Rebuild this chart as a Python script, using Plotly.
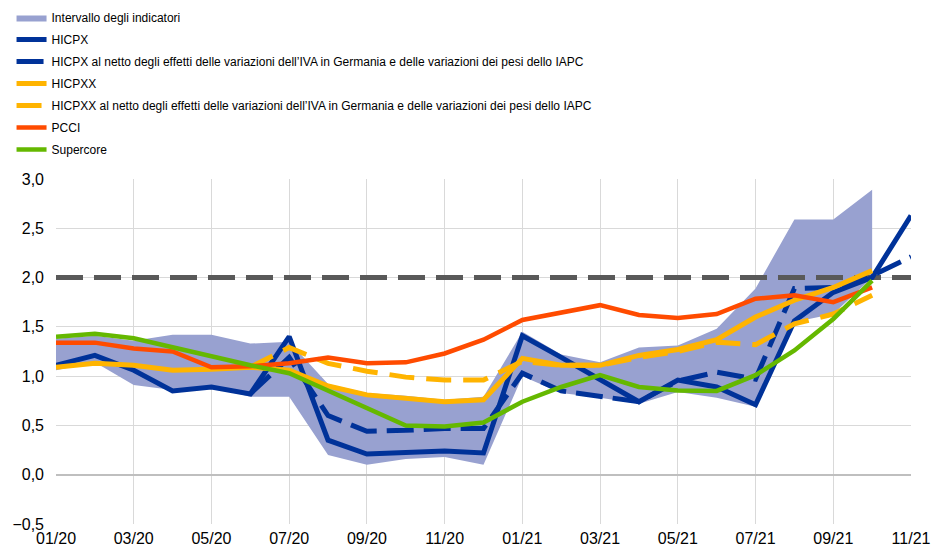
import plotly.graph_objects as go

months = ["01/20", "02/20", "03/20", "04/20", "05/20", "06/20", "07/20", "08/20", "09/20", "10/20", "11/20", "12/20",
          "01/21", "02/21", "03/21", "04/21", "05/21", "06/21", "07/21", "08/21", "09/21", "10/21", "11/21"]

band_upper = [1.38, 1.41, 1.36, 1.42, 1.42, 1.33, 1.35, 0.92, 0.83, 0.80, 0.76, 0.79,
              1.45, 1.22, 1.14, 1.29, 1.31, 1.48, 1.89, 2.59, 2.59, 2.89, None]
band_lower = [1.06, 1.14, 0.91, 0.86, 0.89, 0.79, 0.79, 0.20, 0.10, 0.16, 0.18, 0.10,
              1.00, 0.83, 0.78, 0.72, 0.84, 0.78, 0.69, 1.55, 1.63, 2.00, None]

hicpx = [1.11, 1.21, 1.06, 0.85, 0.89, 0.82, 1.40, 0.35, 0.21, 0.22, 0.24, 0.22,
         1.41, 1.19, 0.96, 0.74, 0.96, 0.89, 0.71, 1.56, 1.85, 2.00, 2.63]
hicpx_adj = [None, None, None, None, None, 0.82, 1.19, 0.60, 0.44, 0.45, 0.47, 0.47,
             1.03, 0.85, 0.79, 0.74, 0.95, 1.04, 0.97, 1.89, 1.90, 2.02, 2.21]
hicpxx = [1.09, 1.13, 1.11, 1.06, 1.07, 1.09, 1.06, 0.90, 0.81, 0.78, 0.74, 0.76,
          1.18, 1.11, 1.11, 1.21, 1.27, 1.37, 1.60, 1.77, 1.90, 2.07, None]
hicpxx_adj = [None, None, None, None, None, 1.09, 1.29, 1.13, 1.05, 0.99, 0.96, 0.96,
              1.15, 1.11, 1.11, 1.19, 1.25, 1.345, 1.32, 1.53, 1.63, 1.82, None]
pcci = [1.34, 1.34, 1.28, 1.25, 1.09, 1.10, 1.13, 1.19, 1.13, 1.14, 1.23, 1.37,
        1.57, 1.65, 1.72, 1.62, 1.59, 1.63, 1.785, 1.82, 1.75, 1.90, None]
supercore = [1.40, 1.43, 1.385, 1.29, 1.20, 1.11, 1.03, 0.85, 0.67, 0.50, 0.49, 0.53,
             0.74, 0.89, 1.01, 0.89, 0.855, 0.85, 1.01, 1.26, 1.58, 1.97, None]
target = 2.0

y_ticks = [-0.5, 0.0, 0.5, 1.0, 1.5, 2.0, 2.5, 3.0]

NAVY = "#003299"
YELLOW = "#FFB400"
RED = "#FF4B00"
GREEN = "#65B800"
BAND = "#98A1D0"

fig = go.Figure()

# band polygon
bx = [m for m, v in zip(months, band_upper) if v is not None]
bu = [v for v in band_upper if v is not None]
bl = [v for v in band_lower if v is not None]
fig.add_trace(go.Scatter(
    x=bx + bx[::-1], y=bu + bl[::-1], fill="toself", fillcolor=BAND,
    line=dict(width=0, color=BAND), mode="lines", name="Intervallo degli indicatori",
    legendgroup="g0", hoverinfo="skip"))

fig.add_trace(go.Scatter(
    x=[months[0], months[-1]], y=[target, target], mode="lines",
    line=dict(color="#595959", width=5, dash="27px,11px"), showlegend=False))

fig.add_trace(go.Scatter(x=months, y=hicpx, mode="lines", name="HICPX", legendgroup="g1",
                         line=dict(color=NAVY, width=5)))
fig.add_trace(go.Scatter(x=months, y=hicpx_adj, mode="lines", legendgroup="g2",
                         name="HICPX al netto degli effetti delle variazioni dell\u2019IVA in Germania e delle variazioni dei pesi dello IAPC",
                         line=dict(color=NAVY, width=5, dash="27px,10px")))
fig.add_trace(go.Scatter(x=months, y=hicpxx, mode="lines", name="HICPXX", legendgroup="g3",
                         line=dict(color=YELLOW, width=5)))
fig.add_trace(go.Scatter(x=months, y=hicpxx_adj, mode="lines", legendgroup="g4",
                         name="HICPXX al netto degli effetti delle variazioni dell\u2019IVA in Germania e delle variazioni dei pesi dello IAPC",
                         line=dict(color=YELLOW, width=5, dash="25px,12px")))
fig.add_trace(go.Scatter(x=months, y=pcci, mode="lines", name="PCCI", legendgroup="g5",
                         line=dict(color=RED, width=4.5)))
fig.add_trace(go.Scatter(x=months, y=supercore, mode="lines", name="Supercore", legendgroup="g6",
                         line=dict(color=GREEN, width=4.5)))

fig.update_layout(
    width=933, height=551,
    margin=dict(l=56, r=22, t=179, b=27, autoexpand=False),
    paper_bgcolor="white", plot_bgcolor="white",
    separators=",.",
    font=dict(family="Arial, Liberation Sans, sans-serif", size=16, color="#000000"),
    showlegend=True,
    legend=dict(
        xref="paper", yref="paper", x=-0.052, y=1.510,
        xanchor="left", yanchor="top", traceorder="grouped",
        font=dict(family="Arial, Liberation Sans, sans-serif", size=12),
        itemwidth=30, tracegroupgap=3, bgcolor="rgba(0,0,0,0)",
    ),
    xaxis=dict(
        type="category", range=[0, len(months) - 1],
        tickmode="array", tickvals=months[::2], ticktext=months[::2],
        showgrid=True, gridcolor="#D9D9D9", gridwidth=1,
        showline=False, zeroline=False, ticks="", tickangle=0,
        ticklabelstandoff=3, tickfont=dict(size=16),
    ),
    yaxis=dict(
        range=[-0.5, 3.0], tickvals=y_ticks, tickformat=".1f",
        showgrid=True, gridcolor="#D9D9D9", gridwidth=1,
        zeroline=True, zerolinecolor="#BFBFBF", zerolinewidth=2,
        showline=False, ticks="", ticklabelstandoff=11, tickfont=dict(size=16),
    ),
)

fig.write_html("out.html", config={"displayModeBar": False},
               post_script="document.body.style.margin='0';")
